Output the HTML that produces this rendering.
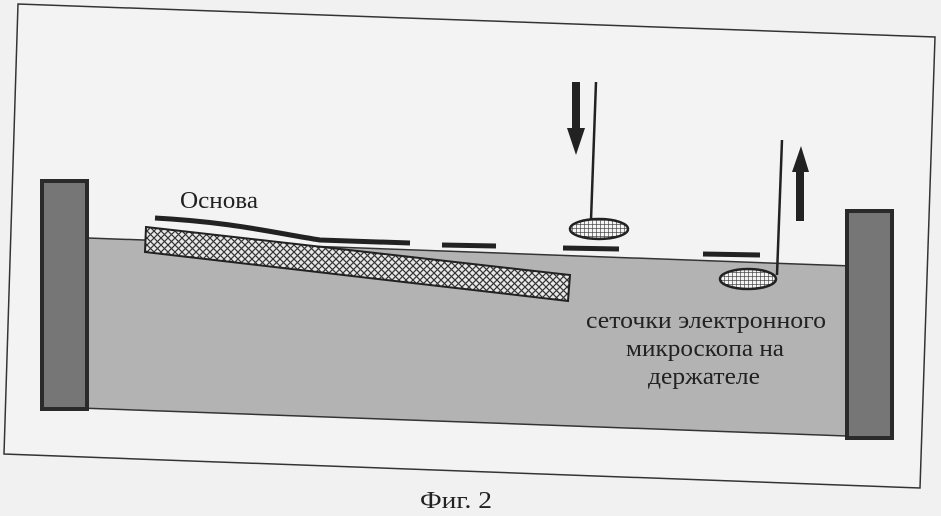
<!DOCTYPE html>
<html><head><meta charset="utf-8"><style>
html,body{margin:0;padding:0;background:#f1f1f1;}
svg{display:block}
text{font-family:"Liberation Serif","Noto Serif CJK SC",serif;fill:#222}
</style></head><body>
<svg width="941" height="516" viewBox="0 0 941 516" xmlns="http://www.w3.org/2000/svg">
<defs>
<pattern id="cross" width="7" height="7" patternUnits="userSpaceOnUse">
<rect width="7" height="7" fill="#e8e8e8"/>
<path d="M0 0L7 7M7 0L0 7" stroke="#333" stroke-width="1.2"/>
</pattern>
<pattern id="grid" width="4" height="4" patternUnits="userSpaceOnUse">
<rect width="4" height="4" fill="#f4f4f4"/>
<path d="M0 0H4M0 0V4" stroke="#333" stroke-width="1.2"/>
</pattern>
</defs>
<rect width="941" height="516" fill="#f1f1f1"/>
<polygon points="18,4 935,37 920,488 4,454" fill="#f3f3f3" stroke="#333" stroke-width="1.5"/>
<polygon points="88,238 852,266 846,436 80,408" fill="#b3b3b3" stroke="#333" stroke-width="1.5"/>
<rect x="42" y="181" width="45" height="228" fill="#767676" stroke="#2a2a2a" stroke-width="4"/>
<rect x="847" y="211" width="45" height="227" fill="#767676" stroke="#2a2a2a" stroke-width="4"/>
<polygon points="146,227 570,275 568,301 145,252" fill="url(#cross)" stroke="#222" stroke-width="2"/>
<path d="M155,218 C230,222 270,232 320,240 L410,243" fill="none" stroke="#222" stroke-width="5"/>
<line x1="442" y1="245" x2="496" y2="246" stroke="#222" stroke-width="5"/>
<line x1="563" y1="248" x2="619" y2="249" stroke="#222" stroke-width="5"/>
<line x1="703" y1="254" x2="760" y2="255" stroke="#222" stroke-width="5"/>
<line x1="596" y1="82" x2="591" y2="220" stroke="#222" stroke-width="2.5"/>
<ellipse cx="599" cy="229" rx="29" ry="10" fill="url(#grid)" stroke="#222" stroke-width="2.5"/>
<line x1="782" y1="140" x2="777" y2="275" stroke="#222" stroke-width="2.5"/>
<ellipse cx="748" cy="279" rx="28" ry="10" fill="url(#grid)" stroke="#222" stroke-width="2.5"/>
<polygon points="572,82 580,82 580,128 585,128 576,155 567,128 572,128" fill="#222"/>
<polygon points="796,221 804,221 804,172 809,172 801,146 792,172 796,172" fill="#222"/>
<text x="180" y="208" font-size="24" textLength="78" lengthAdjust="spacingAndGlyphs">Основа</text>
<text x="586" y="328" font-size="24" textLength="240" lengthAdjust="spacingAndGlyphs">сеточки электронного</text>
<text x="626" y="356" font-size="24" textLength="158" lengthAdjust="spacingAndGlyphs">микроскопа на</text>
<text x="648" y="384" font-size="24" textLength="112" lengthAdjust="spacingAndGlyphs">держателе</text>
<text x="420" y="508" font-size="24" textLength="72" lengthAdjust="spacingAndGlyphs">Фиг. 2</text>
</svg>
</body></html>
